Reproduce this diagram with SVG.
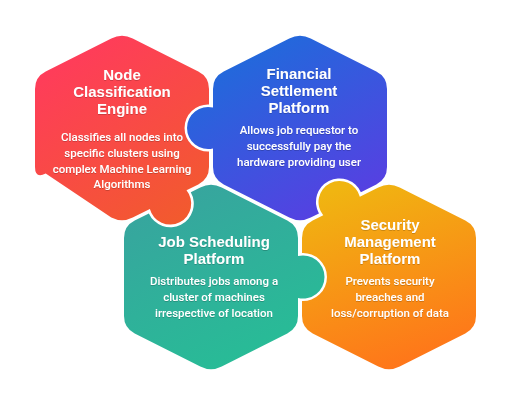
<svg xmlns="http://www.w3.org/2000/svg" width="512" height="408" viewBox="0 0 512 408">
<defs>
<linearGradient id="gRed" gradientUnits="userSpaceOnUse" x1="70" y1="45" x2="180" y2="220"><stop offset="0" stop-color="#FF3B5C"/><stop offset="1" stop-color="#F25A2E"/></linearGradient>
<linearGradient id="gBlue" gradientUnits="userSpaceOnUse" x1="250" y1="40" x2="350" y2="220"><stop offset="0" stop-color="#1F6BDB"/><stop offset="1" stop-color="#5A3DE2"/></linearGradient>
<linearGradient id="gTeal" gradientUnits="userSpaceOnUse" x1="170" y1="195" x2="250" y2="370"><stop offset="0" stop-color="#37A59E"/><stop offset="1" stop-color="#27BD96"/></linearGradient>
<linearGradient id="gOrange" gradientUnits="userSpaceOnUse" x1="350" y1="185" x2="410" y2="370"><stop offset="0" stop-color="#F0B511"/><stop offset="1" stop-color="#FF741A"/></linearGradient>
<filter id="ts" x="-10%" y="-30%" width="120%" height="160%"><feDropShadow dx="0" dy="0.6" stdDeviation="0.6" flood-color="#000" flood-opacity="0.3"/></filter>
</defs>
<style>
.t{font-family:"Liberation Sans",Arial,sans-serif;font-weight:700;font-size:15px;fill:#fff;text-anchor:middle}
.d{font-family:Roboto,"Liberation Sans",sans-serif;font-weight:500;font-size:11.5px;fill:#fff;text-anchor:middle}
.lbl{filter:url(#ts)}
</style>
<g id="connectors"></g>
<g id="node-teal">
<path fill="url(#gTeal)" d="M221.71,187.42 L287.29,220.58 Q298,226 298,238 L298,256.09 A21.5,21.5 0 1 1 298,297.91 L298,316 Q298,328 287.29,333.42 L221.71,366.58 Q211,372 200.29,366.58 L134.71,333.42 Q124,328 124,316 L124,238 Q124,226 134.71,220.58 L148.87,213.43 A23.5,23.5 0 1 0 190.77,192.24 L200.29,187.42 Q211,182 221.71,187.42 Z"/>
<g class="lbl">
<text class="t" x="214" y="247">Job Scheduling</text>
<text class="t" x="214" y="264">Platform</text>
<text class="d" x="214" y="285">Distributes jobs among a</text>
<text class="d" x="214" y="301">cluster of machines</text>
<text class="d" x="214" y="317">irrespective of location</text>
</g>
</g>
<g id="node-red">
<path fill="url(#gRed)" d="M132.71,38.42 L198.29,71.58 Q209,77 209,89 L209,104.52 A23.5,23.5 0 1 0 209,151.48 L209,167 Q209,179 198.29,184.42 L186.51,190.37 A21,21 0 1 1 149.89,208.89 L132.71,217.58 Q122,223 111.29,217.58 L45.71,173.58 Q35,179 35,167 L35,89 Q35,77 45.71,71.58 L111.29,38.42 Q122,33 132.71,38.42 Z"/>
<g class="lbl">
<text class="t" x="122" y="80">Node</text>
<text class="t" x="122" y="97">Classification</text>
<text class="t" x="122" y="114">Engine</text>
<text class="d" x="122" y="141">Classifies all nodes into</text>
<text class="d" x="122" y="157">specific clusters using</text>
<text class="d" x="122" y="172.5">complex Machine Learning</text>
<text class="d" x="122" y="188">Algorithms</text>
</g>
</g>
<g id="node-blue">
<path fill="url(#gBlue)" d="M310.71,38.42 L376.29,71.58 Q387,77 387,89 L387,167 Q387,179 376.29,184.42 L360.86,192.22 A23.5,23.5 0 1 0 318.96,213.42 L310.71,217.58 Q300,223 289.29,217.58 L223.71,184.42 Q213,179 213,167 L213,148.4 A21,21 0 1 1 213,107.6 L213,89 Q213,77 223.71,71.58 L289.29,38.42 Q300,33 310.71,38.42 Z"/>
<g class="lbl">
<text class="t" x="299" y="79">Financial</text>
<text class="t" x="299" y="96">Settlement</text>
<text class="t" x="299" y="113">Platform</text>
<text class="d" x="299" y="134">Allows job requestor to</text>
<text class="d" x="299" y="150">successfully pay the</text>
<text class="d" x="299" y="166">hardware providing user</text>
</g>
</g>
<g id="node-orange">
<path fill="url(#gOrange)" d="M399.71,187.42 L465.29,220.58 Q476,226 476,238 L476,316 Q476,328 465.29,333.42 L399.71,366.58 Q389,372 378.29,366.58 L312.71,333.42 Q302,328 302,316 L302,300.98 A24,24 0 1 0 302,253.02 L302,238 Q302,226 312.71,220.58 L323.23,215.27 A21,21 0 1 1 359.83,196.75 L378.29,187.42 Q389,182 399.71,187.42 Z"/>
<g class="lbl">
<text class="t" x="390" y="230">Security</text>
<text class="t" x="390" y="247">Management</text>
<text class="t" x="390" y="264">Platform</text>
<text class="d" x="390" y="285">Prevents security</text>
<text class="d" x="390" y="301">breaches and</text>
<text class="d" x="390" y="317">loss/corruption of data</text>
</g>
</g>
</svg>
